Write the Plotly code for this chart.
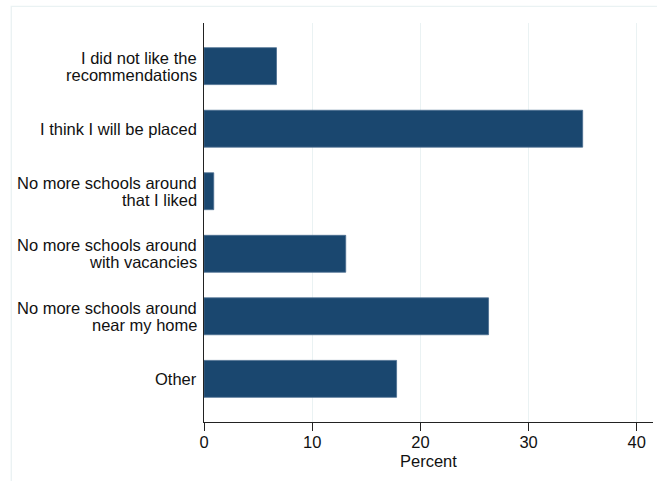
import plotly.graph_objects as go

categories = [
    "I did not like the<br>recommendations",
    "I think I will be placed",
    "No more schools around<br>that I liked",
    "No more schools around<br>with vacancies",
    "No more schools around<br>near my home",
    "Other",
]
percent = [6.7, 35.0, 0.9, 13.1, 26.3, 17.8]
x_ticks = [0, 10, 20, 30, 40]
x_title = "Percent"

W, H = 657, 481
L, R, T, B = 203.5, 4.3, 22.7, 59.3
LINE_GAP = 17

fig = go.Figure(go.Bar(
    x=percent, y=categories, orientation="h",
    marker=dict(color="#1a476f", line=dict(color="#4a6d8f", width=0.8)),
    width=0.59,
))

font = dict(family="Liberation Sans, Arial, sans-serif", size=16.5, color="#111111")

annotations = []
for cat in categories:
    parts = cat.split("<br>")
    n = len(parts)
    for i, p in enumerate(parts):
        annotations.append(dict(
            text=p, xref="paper", x=0, yref="y", y=cat,
            xanchor="right", yanchor="middle", xshift=-5,
            yshift=((n - 1) / 2 - i) * LINE_GAP,
            showarrow=False, font=font,
        ))
annotations.append(dict(
    text=x_title, xref="paper", x=0.5, yref="paper", y=0,
    xanchor="center", yanchor="middle", yshift=-38.5,
    showarrow=False, font=font,
))

fig.update_layout(
    width=W, height=H,
    margin=dict(l=L, r=R, t=T, b=B, pad=0),
    paper_bgcolor="white", plot_bgcolor="white",
    font=font, showlegend=False,
    xaxis=dict(
        range=[0, 41.5], tickvals=x_ticks, ticktext=[str(v) for v in x_ticks],
        showgrid=True, gridcolor="#eaf2f3", gridwidth=1.3, zeroline=False,
        showline=True, linecolor="#222222", linewidth=1.2,
        ticks="outside", ticklen=8, tickcolor="#222222", tickwidth=1.2,
        ticklabelstandoff=-3,
        tickfont=font,
    ),
    yaxis=dict(
        categoryorder="array", categoryarray=categories[::-1],
        range=[-0.69, 5.69], autorange=False,
        showgrid=False, zeroline=False, showticklabels=False,
        showline=True, linecolor="#222222", linewidth=1.2,
        ticks="",
    ),
    annotations=annotations,
    shapes=[dict(
        type="rect", xref="paper", yref="paper",
        x0=(10.7 - L) / (W - L - R), x1=(W + 20 - L) / (W - L - R),
        y0=-(B + 20) / (H - T - B), y1=1 + (T - 6) / (H - T - B),
        line=dict(color="#eaf2f3", width=1.3), fillcolor="rgba(0,0,0,0)",
        layer="below",
    )],
)

fig.write_html(
    "out.html",
    config={"displayModeBar": False},
    post_script="document.body.style.margin='0';document.body.style.padding='0';",
)
